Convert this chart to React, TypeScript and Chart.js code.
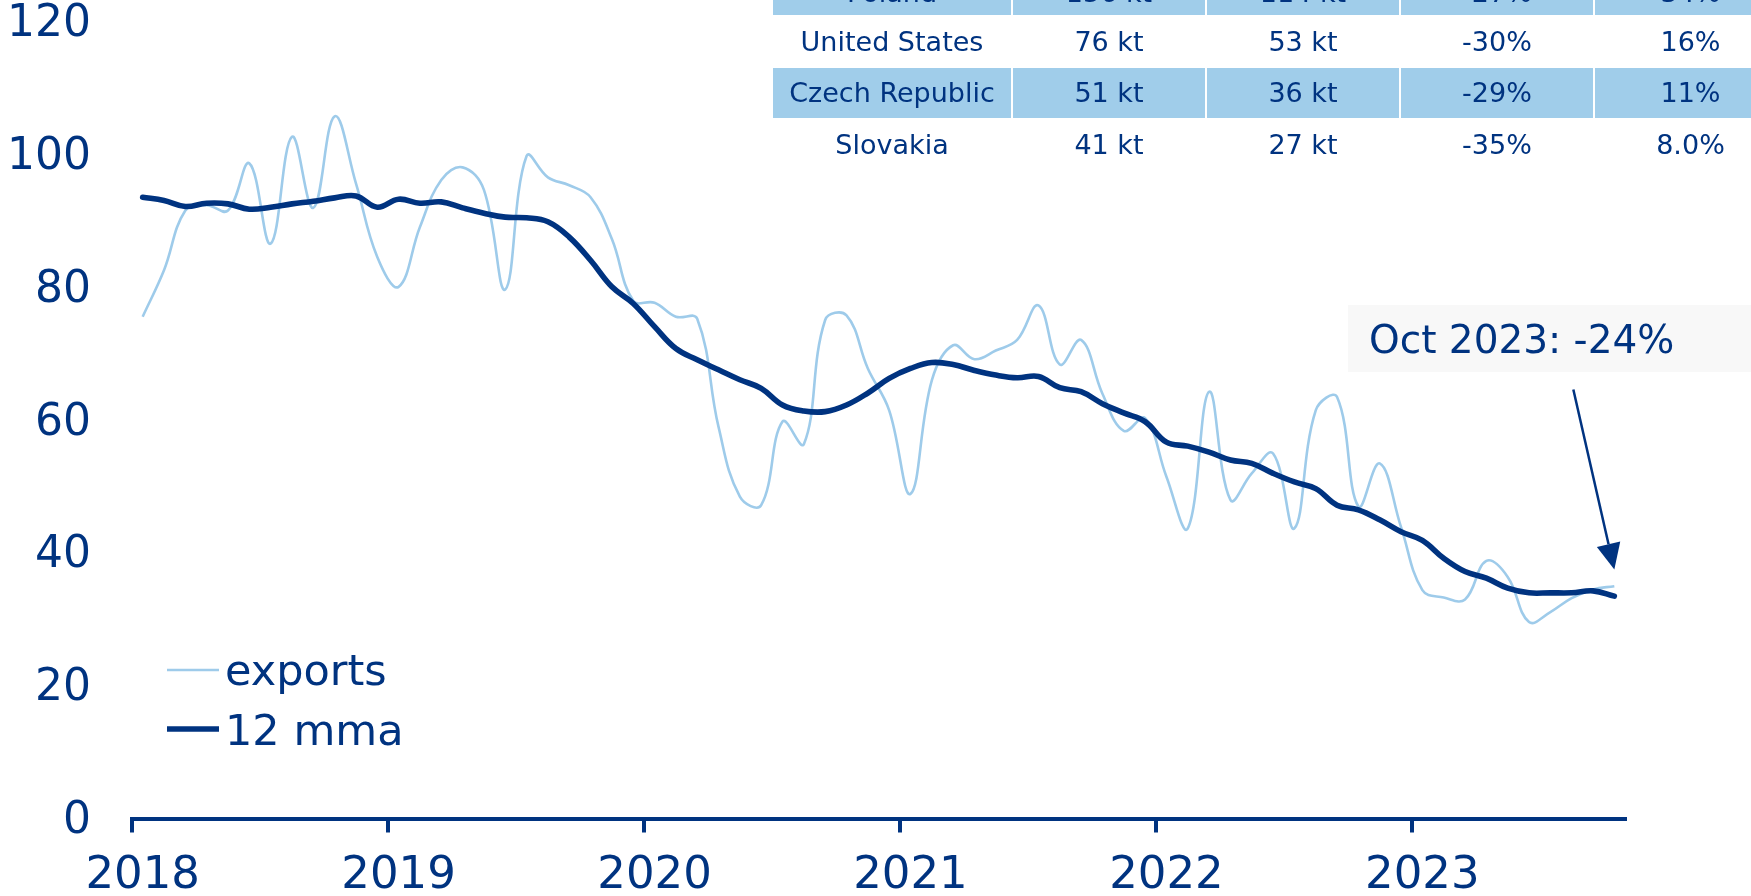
import React, { useEffect, useRef } from "react";
import { Chart, registerables } from "chart.js";

Chart.register(...registerables);

// ---------- data ----------
const years = [2018, 2019, 2020, 2021, 2022, 2023];

// months Jan 2018 .. Oct 2023 (category names)
const monthLabels: string[] = [];
for (const y of years) {
  for (let m = 1; m <= 12; m++) {
    if (y === 2023 && m > 10) break;
    monthLabels.push(`${y}-${String(m).padStart(2, "0")}`);
  }
}

const exportsKt = [
  75.6, 82.6, 91.6, 92.4, 91.6, 98.7, 86.6, 102.7, 92.0, 105.8, 95.7, 84.6,
  80.1, 89.1, 96.2, 98.1, 94.7, 79.7, 99.8, 96.6, 95.4, 93.6, 87.3, 78.0,
  77.7, 75.6, 75.3, 59.0, 48.5, 47.2, 59.8, 56.4, 75.1, 75.8, 67.8, 61.5,
  48.9, 66.0, 71.3, 69.2, 70.5, 72.1, 77.3, 68.4, 72.1, 64.0, 58.4, 60.3,
  51.5, 43.7, 64.3, 48.0, 52.0, 55.0, 43.7, 61.5, 63.5, 47.0, 53.5, 43.9,
  34.4, 33.3, 33.0, 38.8, 36.4, 29.6, 31.1, 33.2, 34.5, 35.0,
];

const mma12 = [
  93.6, 93.1, 92.2, 92.7, 92.6, 91.8, 92.1, 92.6, 93.0, 93.5, 93.8, 92.1,
  93.3, 92.7, 92.9, 92.0, 91.2, 90.6, 90.5, 89.9, 87.6, 84.1, 80.1, 77.6,
  74.1, 70.8, 69.1, 67.6, 66.1, 64.8, 62.3, 61.4, 61.3, 62.3, 64.1, 66.3,
  67.8, 68.7, 68.4, 67.5, 66.8, 66.4, 66.6, 64.9, 64.3, 62.5, 61.1, 59.8,
  56.7, 56.1, 55.2, 54.0, 53.5, 52.0, 50.7, 49.7, 47.2, 46.5, 45.0, 43.2,
  41.9, 39.2, 37.2, 36.2, 34.7, 34.0, 34.0, 34.0, 34.3, 33.5,
];

const yTickValues = [0, 20, 40, 60, 80, 100, 120];
const seriesNames = ["exports", "12 mma"];

const tableCountries = ["Poland", "United States", "Czech Republic", "Slovakia"];
const tableBefore = ["156 kt", "76 kt", "51 kt", "41 kt"];
const tableAfter = ["114 kt", "53 kt", "36 kt", "27 kt"];
const tableChange = ["-27%", "-30%", "-29%", "-35%"];
const tableShare = ["34%", "16%", "11%", "8.0%"];

const annotationText = "Oct 2023: -24%";
const annotationTipValue = 37.5;

// ---------- styles ----------
const NAVY = "#003380";
const LIGHT = "#9ecbea";
const TABLE_BLUE = "#a0cdea";
const FONT = '"DejaVu Sans", Verdana, sans-serif';
const W = 1751;
const H = 896;
const colWidths = [240, 194, 194, 194, 193];

const overlayPlugin = {
  id: "overlay",
  afterDraw(chart: any) {
    const ctx = chart.ctx as CanvasRenderingContext2D;
    const xs = chart.scales.x;
    const ys = chart.scales.y;
    ctx.save();

    // legend
    const rows = [
      { ds: 0, lineY: 670, base: 685 },
      { ds: 1, lineY: 729, base: 745 },
    ];
    ctx.font = `43px ${FONT}`;
    ctx.textBaseline = "alphabetic";
    ctx.textAlign = "left";
    for (const r of rows) {
      const ds = chart.data.datasets[r.ds];
      ctx.strokeStyle = ds.borderColor;
      ctx.lineWidth = ds.borderWidth;
      ctx.lineCap = "butt";
      ctx.beginPath();
      ctx.moveTo(167, r.lineY);
      ctx.lineTo(219, r.lineY);
      ctx.stroke();
      ctx.fillStyle = NAVY;
      ctx.fillText(ds.label, 225, r.base);
    }

    // annotation box + text
    ctx.fillStyle = "#f8f8f8";
    ctx.fillRect(1348, 305, W - 1348, 67);
    ctx.fillStyle = NAVY;
    ctx.font = `39px ${FONT}`;
    ctx.fillText(annotationText, 1369, 353);

    // arrow to last point
    const tipX = xs.getPixelForValue(exportsKt.length - 0.5);
    const tipY = ys.getPixelForValue(annotationTipValue);
    const sx = tipX - 41;
    const sy = tipY - 180;
    const dx = tipX - sx;
    const dy = tipY - sy;
    const len = Math.hypot(dx, dy);
    const ux = dx / len;
    const uy = dy / len;
    const headLen = 26;
    const halfW = 12;
    const bx = tipX - ux * headLen;
    const by = tipY - uy * headLen;
    ctx.strokeStyle = NAVY;
    ctx.lineWidth = 2.5;
    ctx.beginPath();
    ctx.moveTo(sx, sy);
    ctx.lineTo(bx, by);
    ctx.stroke();
    ctx.fillStyle = NAVY;
    ctx.beginPath();
    ctx.moveTo(tipX, tipY);
    ctx.lineTo(bx - uy * halfW, by + ux * halfW);
    ctx.lineTo(bx + uy * halfW, by - ux * halfW);
    ctx.closePath();
    ctx.fill();

    ctx.restore();
  },
};

function ShareTable() {
  const rows = tableCountries.map((c, i) => [c, tableBefore[i], tableAfter[i], tableChange[i], tableShare[i]]);
  return (
    <div style={{ position: "absolute", left: 773, top: -35 }}>
      {rows.map((row, ri) => (
        <div key={ri} style={{ display: "flex", height: 51.5 }}>
          {row.map((cell, ci) => (
            <div
              key={ci}
              style={{
                width: colWidths[ci],
                height: 51.5,
                boxSizing: "border-box",
                borderRight: "2px solid #fff",
                borderBottom: "2px solid #fff",
                paddingTop: ri === 0 ? 5 : 0,
                background: ri % 2 === 0 ? TABLE_BLUE : "#fff",
                display: "flex",
                alignItems: "center",
                justifyContent: "center",
                fontFamily: FONT,
                fontSize: 27,
                color: NAVY,
                whiteSpace: "nowrap",
              }}
            >
              {cell}
            </div>
          ))}
        </div>
      ))}
    </div>
  );
}

export default function App() {
  const ref = useRef<HTMLCanvasElement | null>(null);

  useEffect(() => {
    if (!ref.current) return;
    const chart = new Chart(ref.current, {
      type: "line",
      data: {
        labels: monthLabels,
        datasets: [
          {
            label: seriesNames[0],
            data: exportsKt.map((v, i) => ({ x: i + 0.5, y: v })),
            borderColor: LIGHT,
            backgroundColor: LIGHT,
            borderWidth: 2.6,
            pointRadius: 0,
            tension: 0.4,
            fill: false,
            order: 2,
          },
          {
            label: seriesNames[1],
            data: mma12.map((v, i) => ({ x: i + 0.5, y: v })),
            borderColor: NAVY,
            backgroundColor: NAVY,
            borderWidth: 5.6,
            pointRadius: 0,
            tension: 0.4,
            fill: false,
            borderCapStyle: "round",
            borderJoinStyle: "round",
            order: 1,
          },
        ] as any,
      },
      options: {
        responsive: false,
        animation: false,
        devicePixelRatio: 1,
        layout: { padding: { left: 0, top: 22, right: 126, bottom: 0 } },
        plugins: {
          legend: { display: false },
          tooltip: { enabled: false },
          title: { display: false },
        },
        scales: {
          x: {
            type: "linear",
            min: 0,
            max: monthLabels.length,
            afterBuildTicks: (s: any) => {
              s.ticks = years.map((_, k) => ({ value: k * 12 }));
            },
            afterFit: (s: any) => {
              s.height = H - 818.5;
              s.paddingLeft = 0;
              s.paddingRight = 0;
            },
            ticks: {
              callback: (v: any) => {
                const idx = Math.round(Number(v) / 12);
                return years[idx] !== undefined ? String(years[idx]) : "";
              },
              font: { family: FONT, size: 45 },
              color: NAVY,
              padding: 17,
              labelOffset: 10.66,
              maxRotation: 0,
              autoSkip: false,
            },
            grid: {
              display: true,
              drawOnChartArea: false,
              drawTicks: true,
              tickLength: 14,
              color: NAVY,
              lineWidth: 4,
            },
            border: { display: true, color: NAVY, width: 4 },
          },
          y: {
            type: "linear",
            min: 0,
            max: 120,
            afterBuildTicks: (s: any) => {
              s.ticks = yTickValues.map((v) => ({ value: v }));
            },
            afterFit: (s: any) => {
              s.width = 132;
              s.paddingTop = 0;
              s.paddingBottom = 0;
            },
            ticks: {
              font: { family: FONT, size: 44 },
              color: NAVY,
              padding: 41,
              labelOffset: 3,
            },
            grid: { display: false, drawTicks: false, tickLength: 0 },
            border: { display: false },
          },
        },
      } as any,
      plugins: [overlayPlugin],
    });
    return () => chart.destroy();
  }, []);

  return (
    <div
      style={{
        position: "fixed",
        left: 0,
        top: 0,
        width: W,
        height: H,
        overflow: "hidden",
        background: "#fff",
      }}
    >
      <canvas ref={ref} width={W} height={H} style={{ position: "absolute", left: 0, top: 0, width: W, height: H, display: "block" }} />
      <ShareTable />
    </div>
  );
}
